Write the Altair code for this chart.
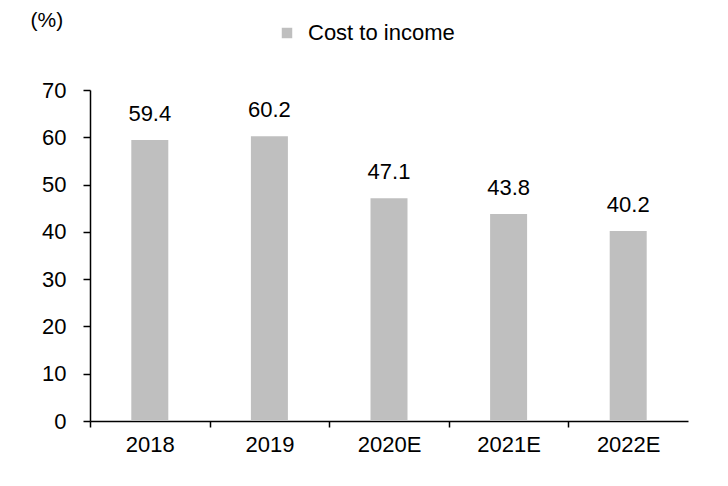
import altair as alt
import pandas as pd

years = ["2018", "2019", "2020E", "2021E", "2022E"]
values = [59.4, 60.2, 47.1, 43.8, 40.2]
series = "Cost to income"
y_ticks = [0, 10, 20, 30, 40, 50, 60, 70]

df = pd.DataFrame({"year": years, "value": values, "series": [series] * len(years)})

FONT = "Liberation Sans"
FS = 22
STEP = 598 / 5

x = alt.X(
    "year:N",
    sort=years,
    scale=alt.Scale(paddingInner=0.69, paddingOuter=0.345),
    axis=alt.Axis(
        title=None,
        labelAngle=0,
        tickOffset=-STEP / 2,
        labelOffset=STEP / 2,
        tickSize=6,
        labelPadding=7,
        labelFontSize=FS,
        labelFont=FONT,
        labelColor="black",
        domainColor="black",
        tickColor="black",
        domainWidth=1.5,
        tickWidth=1.5,
        grid=False,
    ),
)
y = alt.Y(
    "value:Q",
    scale=alt.Scale(domain=[0, 70], nice=False),
    axis=alt.Axis(
        values=y_ticks,
        title="(%)",
        titleAngle=0,
        titleX=-60,
        titleY=-70,
        titleAlign="left",
        titleBaseline="middle",
        titleFontWeight="normal",
        titleFontSize=FS - 1,
        titleFont=FONT,
        titleColor="black",
        titleLimit=100,
        grid=False,
        tickSize=7,
        labelPadding=17,
        labelFontSize=FS,
        labelFont=FONT,
        labelColor="black",
        domainColor="black",
        tickColor="black",
        domainWidth=1.5,
        tickWidth=1.5,
    ),
)

base = alt.Chart(df).encode(x=x, y=y)

bars = base.mark_bar(size=37).encode(
    color=alt.Color(
        "series:N",
        scale=alt.Scale(range=["#BFBFBF"]),
        legend=alt.Legend(
            title=None,
            orient="none",
            legendX=186,
            legendY=-68,
            symbolType="square",
            symbolSize=110,
            symbolStrokeWidth=0,
            labelFontSize=FS,
            labelFont=FONT,
            labelColor="black",
            labelOffset=10,
            padding=0,
        ),
    ),
)

labels = base.mark_text(
    baseline="bottom", dy=-14, fontSize=FS, font=FONT, color="black"
).encode(text=alt.Text("value:Q", format=".1f"))

chart = (
    alt.layer(bars, labels)
    .properties(
        width=598,
        height=331,
        background="white",
        autosize=alt.AutoSizeParams(type="none"),
        padding={"left": 82, "top": 82, "right": 20, "bottom": 60},
    )
    .configure_view(strokeWidth=0, stroke="transparent")
    .configure_axis(grid=False)
)

chart.save("out.html", embed_options={"renderer": "svg", "actions": False})
